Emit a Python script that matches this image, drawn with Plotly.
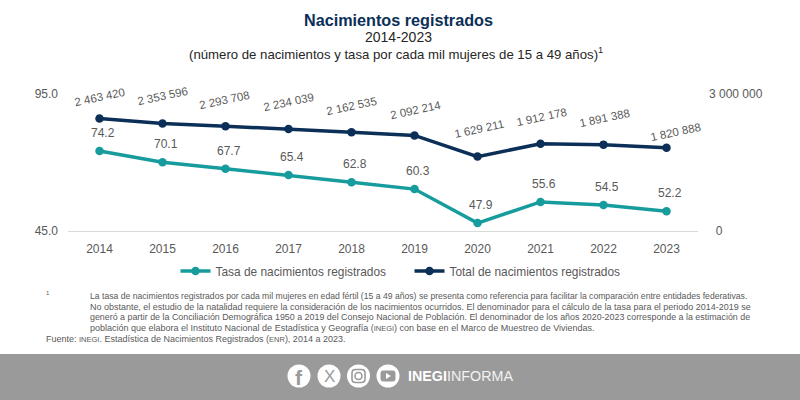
import plotly.graph_objects as go

years = ["2014", "2015", "2016", "2017", "2018", "2019", "2020", "2021", "2022", "2023"]
tasa = [74.2, 70.1, 67.7, 65.4, 62.8, 60.3, 47.9, 55.6, 54.5, 52.2]
total = [2463420, 2353596, 2293708, 2234039, 2162535, 2092214, 1629211, 1912178, 1891388, 1820888]
total_labels = ["2 463 420", "2 353 596", "2 293 708", "2 234 039", "2 162 535",
                "2 092 214", "1 629 211", "1 912 178", "1 891 388", "1 820 888"]
left_ticks = [45, 95]
left_ticktext = ["45.0", "95.0"]
right_ticks = [0, 3000000]
right_ticktext = ["\u00a0\u00a00", "3 000 000"]

notas = [
    "La tasa de nacimientos registrados por cada mil mujeres en edad fértil (15 a 49 años) se presenta como referencia para facilitar la comparación entre entidades federativas.",
    "No obstante, el estudio de la natalidad requiere la consideración de los nacimientos ocurridos. El denominador para el cálculo de la tasa para el periodo 2014-2019 se",
    "generó a partir de la Conciliación Demográfica 1950 a 2019 del Consejo Nacional de Población. El denominador de los años 2020-2023 corresponde a la estimación de",
    "población que elabora el Instituto Nacional de Estadística y Geografía (<span style='font-size:7.5px'>INEGI</span>) con base en el Marco de Muestreo de Viviendas.",
]
# the first line is set tighter than the others in the original
notas_size = [8.65, 8.97, 8.88, 9.0]
fuente = "Fuente: <span style='font-size:7.5px'>INEGI</span>. Estadística de Nacimientos Registrados (<span style='font-size:7.5px'>ENR</span>), 2014 a 2023."

TEAL = "#179c9e"
NAVY = "#0b2f57"
GRAY = "#595959"
FONT = "Liberation Sans"
BAND = "#9a9a9a"

# plot area in pixels (plotly rounds margins, keep these whole)
L, R, T, B = 68, 698, 94, 231


def px(x):
    return (x - L) / (R - L)


def py(y):
    return (B - y) / (B - T)


def text(x, y, s, size, color=GRAY, anchor="center"):
    return dict(xref="paper", yref="paper", x=px(x), y=py(y), text=s, showarrow=False,
                xanchor=anchor, yanchor="middle", font=dict(family=FONT, size=size, color=color))


fig = go.Figure()
fig.add_trace(go.Scatter(x=years, y=tasa, name="Tasa de nacimientos registrados", mode="lines+markers",
                         line=dict(color=TEAL, width=3.5), marker=dict(color=TEAL, size=8.5)))
fig.add_trace(go.Scatter(x=years, y=total, name="Total de nacimientos registrados", mode="lines+markers",
                         yaxis="y2", line=dict(color=NAVY, width=3.5), marker=dict(color=NAVY, size=8.5)))

annotations = []
# rate labels, all sit the same distance above the marker
# (numeric strings are read as positions on a category axis, so use the index)
for i, v in enumerate(tasa):
    annotations.append(dict(x=i, y=v, xref="x", yref="y", text=f"{v:.1f}", showarrow=False,
                            xshift=3, yshift=18, font=dict(family=FONT, size=12, color=GRAY)))

# total labels are tilted and were nudged by hand in the original
shift_x = [0, 0, -1, 0, 0, 1, 1, 1, 1, 9]
shift_y = [22, 28, 26, 27, 26, 25, 28, 27, 27, 16]
for i, (v, lab, sx, sy) in enumerate(zip(total, total_labels, shift_x, shift_y)):
    annotations.append(dict(x=i, y=v, xref="x", yref="y2", text=lab, showarrow=False, textangle=-12,
                            xshift=sx, yshift=sy, font=dict(family=FONT, size=11.5, color=GRAY)))

annotations += [
    text(398, 20, "<b>Nacimientos registrados</b>", 16.2, NAVY),
    text(398, 37, "2014-2023", 14, "#262626"),
    text(396, 53, "(número de nacimientos y tasa por cada mil mujeres de 15 a 49 años)<sup>1</sup>", 13.2, "#262626"),
    text(48, 293, "1", 6, GRAY),
    text(43.5, 339, fuente, 9, GRAY, "left"),
    text(405.5, 376, "<b>INEGI</b>", 14.3, "white", "left"),
    text(445, 376, "INFORMA", 14.3, "#f2f2f2", "left"),
    text(299, 377, "<b>f</b>", 21, BAND),
    text(329, 376, "X", 17, BAND),
]
for ypos, line, size in zip([296, 307, 317, 328], notas, notas_size):
    annotations.append(text(87.5, ypos, line, size, GRAY, "left"))


def rect(x0, y0, x1, y1, color, kind="rect", line=None, width=0):
    return dict(type=kind, xref="paper", yref="paper", x0=px(x0), x1=px(x1), y0=py(y0), y1=py(y1),
                fillcolor=color, line=dict(color=line or color, width=width), layer="below")


def round_box(cx, cy, w, h, r):
    # rounded box as an svg path in paper coordinates
    x0, x1, y0, y1 = cx - w / 2, cx + w / 2, cy - h / 2, cy + h / 2
    return (f"M{px(x0 + r)},{py(y0)} L{px(x1 - r)},{py(y0)} Q{px(x1)},{py(y0)} {px(x1)},{py(y0 + r)} "
            f"L{px(x1)},{py(y1 - r)} Q{px(x1)},{py(y1)} {px(x1 - r)},{py(y1)} "
            f"L{px(x0 + r)},{py(y1)} Q{px(x0)},{py(y1)} {px(x0)},{py(y1 - r)} "
            f"L{px(x0)},{py(y0 + r)} Q{px(x0)},{py(y0)} {px(x0 + r)},{py(y0)} Z")


shapes = [rect(0, 354, 800, 400, BAND)]
for cx in [299, 329, 358.5, 388]:
    shapes.append(rect(cx - 11.5, 364.5, cx + 11.5, 387.5, "white", "circle"))
# instagram and youtube glyphs
shapes.append(dict(type="path", xref="paper", yref="paper", path=round_box(358.5, 376, 13, 13, 3.5),
                   fillcolor="rgba(0,0,0,0)", line=dict(color=BAND, width=1.6), layer="below"))
shapes.append(rect(355, 372.5, 362, 379.5, "rgba(0,0,0,0)", "circle", BAND, 1.6))
shapes.append(dict(type="path", xref="paper", yref="paper", path=round_box(388, 376, 15, 11, 3),
                   fillcolor=BAND, line=dict(width=0), layer="below"))
shapes.append(dict(type="path", xref="paper", yref="paper",
                   path=f"M{px(386)},{py(373)} L{px(391)},{py(376)} L{px(386)},{py(379)} Z",
                   fillcolor="white", line=dict(width=0), layer="below"))

fig.update_layout(
    width=800, height=400,
    margin=dict(l=L, r=800 - R, t=T, b=400 - B, autoexpand=False),
    paper_bgcolor="white", plot_bgcolor="white",
    font=dict(family=FONT, size=12, color=GRAY),
    showlegend=True,
    legend=dict(orientation="h", xref="paper", yref="paper", x=px(175.5), y=py(271), xanchor="left", yanchor="middle",
                entrywidth=189, entrywidthmode="pixels", font=dict(size=11.9, color=GRAY), bgcolor="rgba(0,0,0,0)"),
    annotations=annotations,
    shapes=shapes,
    xaxis=dict(type="category", range=[-0.5, 9.5], showgrid=False, showline=True, linecolor="#d9d9d9", linewidth=1,
               ticks="", zeroline=False, ticklabelstandoff=7, tickfont=dict(size=12, color=GRAY)),
    yaxis=dict(range=[45, 95], tickvals=left_ticks, ticktext=left_ticktext, showgrid=False, zeroline=False,
               showline=False, ticks="", ticklabelstandoff=9, tickfont=dict(size=12, color=GRAY)),
    yaxis2=dict(range=[0, 3000000], tickvals=right_ticks, ticktext=right_ticktext, overlaying="y", side="right",
                showgrid=False, zeroline=False, showline=False, ticks="", ticklabelstandoff=10,
                tickfont=dict(size=12, color=GRAY)),
)

fig.write_html("out.html", config={"displayModeBar": False},
               post_script="document.body.style.margin='0';document.body.style.overflow='hidden';")
